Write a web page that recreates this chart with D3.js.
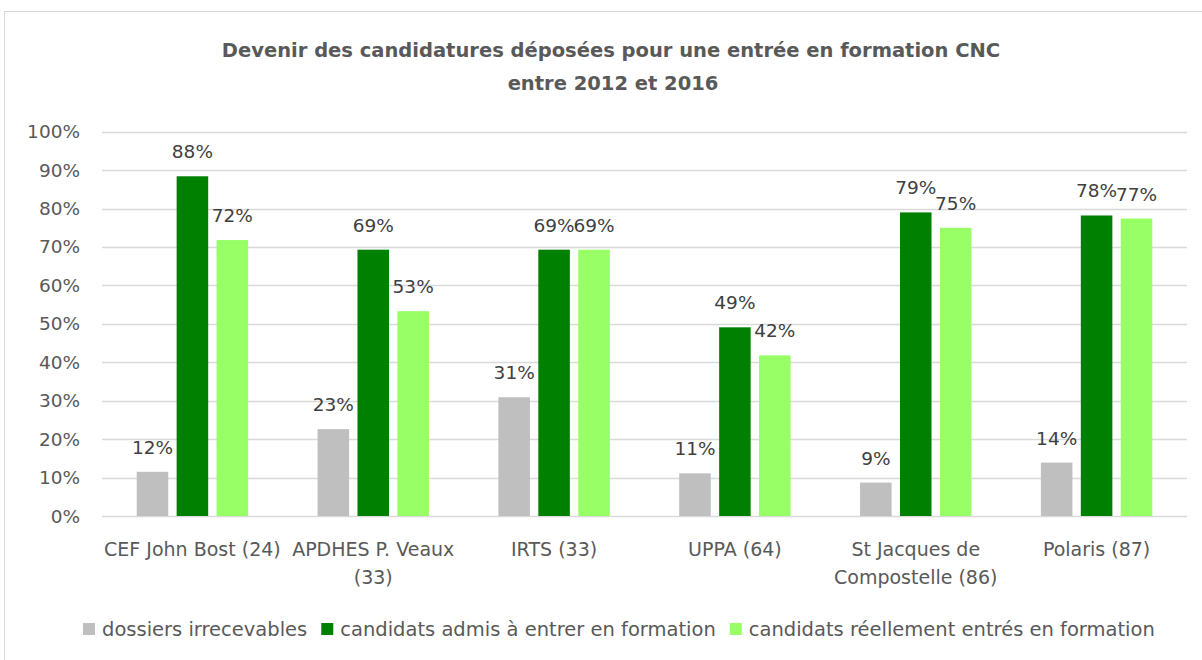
<!DOCTYPE html>
<html>
<head>
<meta charset="utf-8">
<title>Devenir des candidatures</title>
<style>
  body {
    margin: 0;
    background: #fff;
    font-family: 'DejaVu Sans', 'Open Sans', Arial;
  }
  .grid line {
    stroke: #d9d9d9;
    stroke-width: 1.3;
  }
  .tick-label {
    fill: #595959;
    font-size: 18.5px;
  }
  .cat-label {
    fill: #595959;
    font-size: 19px;
  }
  .val-label {
    fill: #404040;
    font-size: 18.5px;
  }
  .title {
    fill: #595959;
    font-size: 19.5px;
    font-weight: bold;
  }
  .legend text {
    fill: #595959;
    font-size: 19.5px;
  }
</style>
</head>
<body>
<script src="https://d3js.org/d3.v7.min.js"></script>
<script>

// categories (lines of each x label)
var categories = ['CEF John Bost (24)', 'APDHES P. Veaux (33)', 'IRTS (33)', 'UPPA (64)', 'St Jacques de Compostelle (86)', 'Polaris (87)'];
var categoryLines = [
  ['CEF John Bost (24)'],
  ['APDHES P. Veaux', '(33)'],
  ['IRTS (33)'],
  ['UPPA (64)'],
  ['St Jacques de', 'Compostelle (86)'],
  ['Polaris (87)']
];

var seriesNames = ['dossiers irrecevables', 'candidats admis à entrer en formation', 'candidats réellement entrés en formation'];
var seriesColors = ['#bfbfbf', '#008000', '#99ff66'];

// values in %
var irrecevables = [11.5, 22.6, 30.9, 11.1, 8.7, 13.9];
var admis = [88.4, 69.3, 69.3, 49.1, 79.0, 78.2];
var entres = [71.8, 53.3, 69.3, 41.8, 75.0, 77.4];

var yTicks = [0, 10, 20, 30, 40, 50, 60, 70, 80, 90, 100];

var width = 1202;
var height = 660;

var svg = d3.select('body').append('svg')
  .attr('width', width)
  .attr('height', height);

// chart border
svg.append('rect')
  .attr('x', 4.5)
  .attr('y', 11.5)
  .attr('width', 1220)
  .attr('height', 700)
  .attr('fill', 'none')
  .attr('stroke', '#d9d9d9');

svg.append('text').attr('class', 'title')
  .attr('x', 611).attr('y', 57)
  .attr('text-anchor', 'middle')
  .text('Devenir des candidatures déposées pour une entrée en formation CNC');
svg.append('text').attr('class', 'title')
  .attr('x', 613).attr('y', 90)
  .attr('text-anchor', 'middle')
  .text('entre 2012 et 2016');

var x0 = d3.scaleBand()
  .domain(categories)
  .range([102, 1187])
  .paddingInner(0.384)
  .paddingOuter(0.192);

var x1 = d3.scaleBand()
  .domain(seriesNames)
  .range([0, x0.bandwidth()])
  .paddingInner(0.21);

var y = d3.scaleLinear()
  .domain([0, 100])
  .range([516, 131.7]);

// gridlines
svg.append('g').attr('class', 'grid')
  .selectAll('line')
  .data(yTicks)
  .enter().append('line')
  .attr('x1', 102)
  .attr('x2', 1187)
  .attr('y1', function (d) { return Math.round(y(d)) + 0.5; })
  .attr('y2', function (d) { return Math.round(y(d)) + 0.5; });

svg.append('g')
  .selectAll('text')
  .data(yTicks)
  .enter().append('text')
  .attr('class', 'tick-label')
  .attr('x', 80)
  .attr('y', function (d) { return y(d) + 6.5; })
  .attr('text-anchor', 'end')
  .text(function (d) { return d + '%'; });

var table = categories.map(function (c, i) {
  return {
    cat: c,
    vals: [irrecevables[i], admis[i], entres[i]].map(function (v, j) {
      return { name: seriesNames[j], value: v, color: seriesColors[j] };
    })
  };
});

var groups = svg.append('g')
  .selectAll('g')
  .data(table)
  .enter().append('g')
  .attr('transform', function (d) { return 'translate(' + x0(d.cat) + ',0)'; });

groups.selectAll('rect')
  .data(function (d) { return d.vals; })
  .enter().append('rect')
  .attr('x', function (d) { return x1(d.name); })
  .attr('y', function (d) { return y(d.value); })
  .attr('width', x1.bandwidth())
  .attr('height', function (d) { return y(0) - y(d.value); })
  .attr('fill', function (d) { return d.color; });

groups.selectAll('text')
  .data(function (d) { return d.vals; })
  .enter().append('text')
  .attr('class', 'val-label')
  .attr('x', function (d) { return x1(d.name) + x1.bandwidth() / 2; })
  .attr('y', function (d) { return y(d.value) - 18; })
  .attr('text-anchor', 'middle')
  .text(function (d) { return Math.round(d.value) + '%'; });

// category labels
categories.forEach(function (c, i) {
  var t = svg.append('text')
    .attr('class', 'cat-label')
    .attr('text-anchor', 'middle');
  categoryLines[i].forEach(function (line, k) {
    t.append('tspan')
      .attr('x', x0(c) + x0.bandwidth() / 2)
      .attr('y', 556 + k * 28)
      .text(line);
  });
});

// legend
var legend = svg.append('g').attr('class', 'legend');
var lx = 83;
seriesNames.forEach(function (name, i) {
  legend.append('rect')
    .attr('x', lx)
    .attr('y', 623)
    .attr('width', 12)
    .attr('height', 12)
    .attr('fill', seriesColors[i]);
  var t = legend.append('text')
    .attr('x', lx + 19)
    .attr('y', 636)
    .text(name);
  lx += 19 + t.node().getComputedTextLength() + 14;
});

</script>
</body>
</html>
